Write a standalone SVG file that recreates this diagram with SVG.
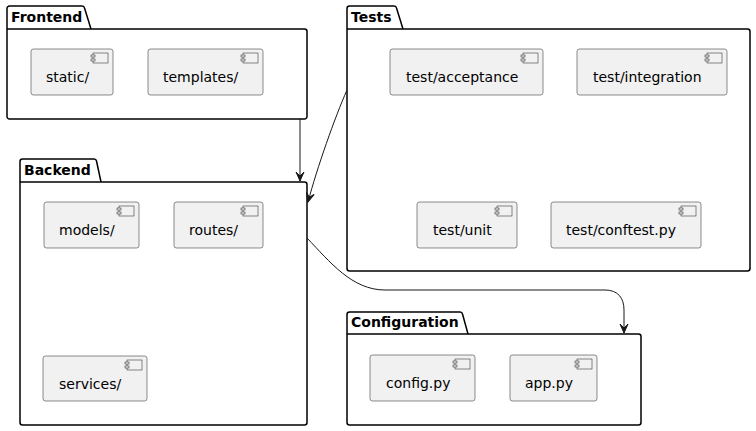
<svg xmlns="http://www.w3.org/2000/svg" width="756" height="431" viewBox="0 0 756 431">
<style>
.pkg{fill:none;stroke:#000;stroke-width:1.5}
.pt{font-family:"DejaVu Sans",sans-serif;font-size:14px;font-weight:bold;fill:#000}
.comp{fill:#F1F1F1;stroke:#181818;stroke-width:0.5}
.ic{fill:#F1F1F1;stroke:#181818;stroke-width:0.5}
.ct{font-family:"DejaVu Sans",sans-serif;font-size:14px;fill:#000}
.edge{fill:none;stroke:#181818;stroke-width:1}
</style>
<defs>
<marker id="ah" markerUnits="userSpaceOnUse" markerWidth="12" markerHeight="10" refX="10" refY="5" orient="auto" viewBox="0 0 12 10">
<path d="M10,5 L1,1 L5,5 L1,9 Z" fill="#181818" stroke="#181818" stroke-width="1"/>
</marker>
<g id="icon">
<rect x="0" y="0" width="15" height="10" class="ic"/>
<rect x="-2" y="2" width="4" height="2" class="ic"/>
<rect x="-2" y="6" width="4" height="2" class="ic"/>
</g>
</defs>
<rect width="756" height="431" fill="#fff"/>

<g id="Frontend">
<path class="pkg" d="M7,29 L7,8.5 A2.5,2.5 0 0 1 9.5,6 L82,6 A2.5,2.5 0 0 1 84.5,8 L91,29 L304.5,29 A2.5,2.5 0 0 1 307,31.5 L307,116.5 A2.5,2.5 0 0 1 304.5,119 L9.5,119 A2.5,2.5 0 0 1 7,116.5 Z M7,29 L91,29"/>
<text class="pt" x="11" y="22">Frontend</text>
</g>
<g id="static">
<rect class="comp" x="31" y="49" width="82" height="46" rx="2.5"/>
<use href="#icon" x="93" y="53"/>
<text class="ct" x="46" y="82">static/</text>
</g>
<g id="templates">
<rect class="comp" x="148" y="49" width="115" height="46" rx="2.5"/>
<use href="#icon" x="243" y="53"/>
<text class="ct" x="163" y="82">templates/</text>
</g>

<g id="Tests">
<path class="pkg" d="M347,29 L347,8.5 A2.5,2.5 0 0 1 349.5,6 L394,6 A2.5,2.5 0 0 1 396.5,8 L403,29 L747.5,29 A2.5,2.5 0 0 1 750,31.5 L750,268.5 A2.5,2.5 0 0 1 747.5,271 L349.5,271 A2.5,2.5 0 0 1 347,268.5 Z M347,29 L403,29"/>
<text class="pt" x="351" y="22">Tests</text>
</g>
<g id="test_acceptance">
<rect class="comp" x="390" y="49" width="153" height="46" rx="2.5"/>
<use href="#icon" x="523" y="53"/>
<text class="ct" x="406" y="82">test/acceptance</text>
</g>
<g id="test_integration">
<rect class="comp" x="577" y="49" width="150" height="46" rx="2.5"/>
<use href="#icon" x="707" y="53"/>
<text class="ct" x="593" y="82">test/integration</text>
</g>
<g id="test_unit">
<rect class="comp" x="417" y="202" width="100" height="46" rx="2.5"/>
<use href="#icon" x="497" y="206"/>
<text class="ct" x="433" y="235">test/unit</text>
</g>
<g id="test_conftest">
<rect class="comp" x="551" y="202" width="150" height="46" rx="2.5"/>
<use href="#icon" x="681" y="206"/>
<text class="ct" x="566" y="235">test/conftest.py</text>
</g>

<g id="Backend">
<path class="pkg" d="M20,182 L20,161.5 A2.5,2.5 0 0 1 22.5,159 L94,159 A2.5,2.5 0 0 1 96.5,161 L101,182 L304.5,182 A2.5,2.5 0 0 1 307,184.5 L307,422.5 A2.5,2.5 0 0 1 304.5,425 L22.5,425 A2.5,2.5 0 0 1 20,422.5 Z M20,182 L101,182"/>
<text class="pt" x="24" y="175">Backend</text>
</g>
<g id="models">
<rect class="comp" x="44" y="202" width="95" height="46" rx="2.5"/>
<use href="#icon" x="119" y="206"/>
<text class="ct" x="59" y="235">models/</text>
</g>
<g id="routes">
<rect class="comp" x="174" y="202" width="89" height="46" rx="2.5"/>
<use href="#icon" x="243" y="206"/>
<text class="ct" x="189" y="235">routes/</text>
</g>
<g id="services">
<rect class="comp" x="43" y="356" width="104" height="45" rx="2.5"/>
<use href="#icon" x="127" y="360"/>
<text class="ct" x="59" y="389">services/</text>
</g>

<g id="Configuration">
<path class="pkg" d="M347,334 L347,314.5 A2.5,2.5 0 0 1 349.5,312 L460,312 A2.5,2.5 0 0 1 462.5,314 L468,334 L638.5,334 A2.5,2.5 0 0 1 641,336.5 L641,422.5 A2.5,2.5 0 0 1 638.5,425 L349.5,425 A2.5,2.5 0 0 1 347,422.5 Z M347,334 L468,334"/>
<text class="pt" x="351" y="327">Configuration</text>
</g>
<g id="config_py">
<rect class="comp" x="370" y="355" width="105" height="46" rx="2.5"/>
<use href="#icon" x="455" y="359"/>
<text class="ct" x="386" y="388">config.py</text>
</g>
<g id="app_py">
<rect class="comp" x="510" y="355" width="87" height="46" rx="2.5"/>
<use href="#icon" x="577" y="359"/>
<text class="ct" x="525" y="388">app.py</text>
</g>

<g id="connectors">
<path class="edge" d="M300,119 L300,181" marker-end="url(#ah)"/>
<path class="edge" d="M347,90 C335,117 317,168 308,202" marker-end="url(#ah)"/>
<path class="edge" d="M307,238 C330,262 352,290 385,290 L605,290 C618,290 624,298 624,310 L624,333" marker-end="url(#ah)"/>
</g>
</svg>
